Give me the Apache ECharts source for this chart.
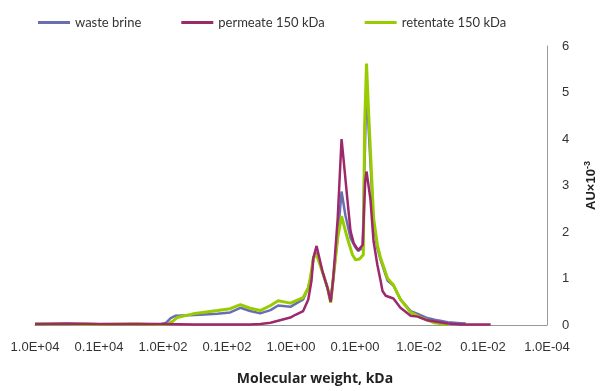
<!DOCTYPE html>
<html>
<head>
<meta charset="utf-8">
<script src="https://cdn.jsdelivr.net/npm/echarts@6/dist/echarts.min.js"></script>
<style>
	html, body { margin: 0; padding: 0; background: #fff; }
	#chart { width: 614px; height: 391px; }
</style>
</head>
<body>
<div id="chart"></div>
<script>
// x = log10(molecular weight, kDa), y = AU x 10^-3
var tickLabels = ['1.0E+04', '0.1E+04', '1.0E+02', '0.1E+02', '1.0E+00', '0.1E+00', '1.0E-02', '0.1E-02', '1.0E-04'];
var seriesNames = ['waste brine', 'permeate 150 kDa', 'retentate 150 kDa'];

var wasteBrine = [
	[4.0, 0.02], [3.6, 0.01], [3.2, 0.02], [2.8, 0.01], [2.4, 0.02], [2.05, 0.01], [1.95, 0.05],
	[1.88, 0.15], [1.8, 0.2], [1.6, 0.21], [1.42, 0.22], [1.15, 0.24], [0.95, 0.27], [0.79, 0.37],
	[0.64, 0.3], [0.48, 0.25], [0.32, 0.32], [0.2, 0.42], [0.01, 0.39], [-0.19, 0.55], [-0.27, 0.8],
	[-0.32, 1.1], [-0.35, 1.45], [-0.4, 1.55], [-0.49, 1.15], [-0.57, 0.8], [-0.62, 0.5], [-0.66, 1.0],
	[-0.73, 1.9], [-0.79, 2.87], [-0.85, 2.36], [-0.93, 1.87], [-1.01, 1.66], [-1.05, 1.59], [-1.12, 1.66],
	[-1.15, 3.5], [-1.18, 5.2], [-1.21, 4.3], [-1.26, 3.0], [-1.29, 2.2], [-1.35, 1.65], [-1.4, 1.4],
	[-1.51, 0.95], [-1.6, 0.85], [-1.71, 0.55], [-1.87, 0.3], [-1.98, 0.24], [-2.13, 0.15], [-2.29, 0.1],
	[-2.45, 0.06], [-2.65, 0.04], [-2.73, 0.03]
];

var permeate = [
	[4.0, 0.02], [3.5, 0.03], [3.0, 0.02], [2.5, 0.02], [2.0, 0.02], [1.5, 0.01], [1.0, 0.01],
	[0.64, 0.01], [0.48, 0.02], [0.32, 0.05], [0.01, 0.16], [-0.07, 0.22], [-0.19, 0.3], [-0.27, 0.55],
	[-0.32, 0.95], [-0.35, 1.45], [-0.4, 1.7], [-0.49, 1.16], [-0.57, 0.8], [-0.62, 0.5], [-0.66, 1.0],
	[-0.73, 2.3], [-0.79, 4.0], [-0.82, 3.58], [-0.88, 2.72], [-0.93, 2.02], [-0.98, 1.76], [-1.05, 1.61],
	[-1.12, 1.72], [-1.16, 3.1], [-1.18, 3.3], [-1.24, 2.72], [-1.29, 1.8], [-1.35, 1.29], [-1.4, 0.95],
	[-1.43, 0.73], [-1.48, 0.63], [-1.6, 0.57], [-1.71, 0.37], [-1.87, 0.2], [-1.98, 0.18], [-2.13, 0.1],
	[-2.45, 0.03], [-2.65, 0.01], [-3.12, 0.01]
];

var retentate = [
	[4.0, 0.02], [3.5, 0.02], [3.0, 0.01], [2.5, 0.02], [2.05, 0.01], [1.93, 0.01], [1.85, 0.08],
	[1.78, 0.16], [1.53, 0.24], [1.15, 0.31], [0.95, 0.35], [0.79, 0.44], [0.64, 0.36], [0.48, 0.31],
	[0.32, 0.42], [0.2, 0.52], [0.01, 0.47], [-0.19, 0.59], [-0.27, 0.8], [-0.3, 1.0], [-0.35, 1.44],
	[-0.4, 1.51], [-0.49, 1.15], [-0.57, 0.8], [-0.62, 0.48], [-0.66, 1.0], [-0.73, 1.87], [-0.79, 2.34],
	[-0.88, 1.87], [-0.96, 1.51], [-1.01, 1.4], [-1.07, 1.42], [-1.13, 1.51], [-1.15, 4.28], [-1.18, 5.62],
	[-1.21, 4.64], [-1.26, 3.21], [-1.29, 2.3], [-1.35, 1.72], [-1.4, 1.44], [-1.51, 1.0], [-1.6, 0.86],
	[-1.71, 0.55], [-1.87, 0.27], [-2.03, 0.16], [-2.23, 0.05], [-2.45, 0.01]
];

var yTicks = [0, 1, 2, 3, 4, 5, 6];

var chart = echarts.init(document.getElementById('chart'));

var lineSeries = function(name, data, color, width) {
	return {
		name: name,
		type: 'line',
		data: data,
		showSymbol: false,
		symbol: 'none',
		lineStyle: { color: color, width: width },
		itemStyle: { color: color }
	};
};

var option = {
	animation: false,
	backgroundColor: '#fff',
	legend: {
		data: seriesNames,
		left: 33,
		top: 11,
		icon: 'rect',
		itemWidth: 32,
		itemHeight: 3,
		itemGap: 40,
		textStyle: { fontFamily: 'Lato', fontSize: 13, color: '#333' }
	},
	grid: {
		left: 35,
		right: 67,
		top: 46,
		bottom: 64
	},
	xAxis: {
		type: 'value',
		min: -4,
		max: 4,
		interval: 1,
		inverse: true,
		name: 'Molecular weight, kDa',
		nameLocation: 'middle',
		nameGap: 47,
		nameTextStyle: {
			fontFamily: 'Open Sans',
			fontWeight: 'bold',
			fontSize: 14,
			color: '#222',
			padding: [0, 0, 0, 48]
		},
		axisLine: { show: true, onZero: false, lineStyle: { color: '#999', width: 1 } },
		axisTick: { show: false },
		splitLine: { show: false },
		axisLabel: {
			margin: 16,
			fontFamily: 'Liberation Sans',
			fontSize: 13,
			color: '#333',
			formatter: function(v) {
				return tickLabels[4 - Math.round(v)];
			}
		}
	},
	yAxis: {
		type: 'value',
		position: 'right',
		min: yTicks[0],
		max: yTicks[yTicks.length - 1],
		interval: 1,
		name: '{a|AU×10}{s|-3}',
		nameLocation: 'middle',
		nameRotate: 90,
		nameGap: 36,
		nameTextStyle: {
			rich: {
				a: { fontFamily: 'Liberation Sans', fontWeight: 'bold', fontSize: 13, color: '#222' },
				s: { fontFamily: 'Liberation Sans', fontWeight: 'bold', fontSize: 9, color: '#222', padding: [0, 0, 8, 0] }
			}
		},
		axisLine: { show: true, onZero: false, lineStyle: { color: '#999', width: 1 } },
		axisTick: { show: false },
		splitLine: { show: false },
		axisLabel: {
			margin: 15,
			fontFamily: 'Liberation Sans',
			fontSize: 13,
			color: '#333'
		}
	},
	series: [
		lineSeries(seriesNames[0], wasteBrine, '#6B6DB3', 2.5),
		lineSeries(seriesNames[2], retentate, '#99CC00', 3),
		lineSeries(seriesNames[1], permeate, '#9C2A6B', 2.5)
	]
};

chart.setOption(option);
</script>
</body>
</html>
